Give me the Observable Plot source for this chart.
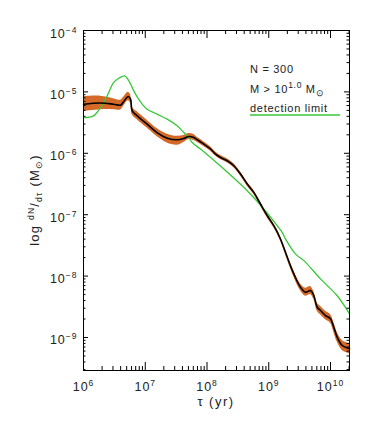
<!DOCTYPE html>
<html><head><meta charset="utf-8">
<script src="https://cdn.jsdelivr.net/npm/d3@7"></script>
<script src="https://cdn.jsdelivr.net/npm/@observablehq/plot@0.6"></script>
<style>
body{margin:0;background:#fff}
#chart{width:374px;height:423px;overflow:hidden}
</style>
</head><body><div id="chart"></div>
<script>
// --- data (log10 values) ---
const logTau = [6.00, 6.275, 6.486, 6.60, 6.648, 6.724, 6.761, 6.789, 6.87, 7.03, 7.19, 7.355, 7.516, 7.624, 7.705, 7.786, 7.841, 7.948, 8.057, 8.138, 8.219, 8.327, 8.434, 8.543, 8.651, 8.758, 8.866, 8.975, 9.082, 9.19, 9.30, 9.406, 9.514, 9.595, 9.676, 9.73, 9.785, 9.838, 9.919, 10.0, 10.053, 10.108, 10.19, 10.308];
const logRate = [-5.20, -5.18, -5.20, -5.216, -5.163, -5.076, -5.114, -5.309, -5.39, -5.525, -5.662, -5.753, -5.78, -5.76, -5.727, -5.743, -5.78, -5.85, -5.93, -6.013, -6.068, -6.122, -6.203, -6.338, -6.50, -6.637, -6.826, -7.016, -7.179, -7.395, -7.694, -7.964, -8.182, -8.263, -8.236, -8.317, -8.507, -8.561, -8.642, -8.696, -8.833, -8.995, -9.13, -9.184];
const sigmaUp = [0.12, 0.11, 0.09, 0.08, 0.075, 0.07, 0.07, 0.065, 0.065, 0.065, 0.065, 0.065, 0.057, 0.05, 0.05, 0.05, 0.04, 0.04, 0.035, 0.033, 0.033, 0.033, 0.033, 0.033, 0.033, 0.033, 0.033, 0.033, 0.033, 0.033, 0.04, 0.05, 0.055, 0.065, 0.065, 0.065, 0.065, 0.07, 0.07, 0.07, 0.08, 0.08, 0.08, 0.08];
const sigmaDown = [0.12, 0.11, 0.09, 0.08, 0.075, 0.07, 0.07, 0.065, 0.065, 0.065, 0.065, 0.08, 0.09, 0.065, 0.05, 0.05, 0.04, 0.04, 0.035, 0.033, 0.033, 0.033, 0.033, 0.033, 0.033, 0.033, 0.033, 0.033, 0.033, 0.033, 0.04, 0.05, 0.055, 0.065, 0.065, 0.065, 0.065, 0.07, 0.07, 0.07, 0.08, 0.08, 0.08, 0.08];
const greenLogTau = [6.00, 6.162, 6.275, 6.384, 6.486, 6.572, 6.669, 6.734, 6.842, 6.95, 7.03, 7.19, 7.355, 7.516, 7.624, 7.705, 7.76, 7.895, 8.272, 8.651, 8.92, 9.136, 9.217, 9.271, 9.433, 9.568, 9.838, 10.108, 10.308];
const greenLogRate = [-5.418, -5.39, -5.255, -5.065, -4.849, -4.777, -4.74, -4.821, -5.037, -5.20, -5.281, -5.363, -5.444, -5.553, -5.662, -5.743, -5.824, -5.932, -6.257, -6.61, -6.907, -7.179, -7.288, -7.395, -7.639, -7.748, -8.046, -8.32, -8.615];
const xMajor = [1e6, 1e7, 1e8, 1e9, 1e10];
const xLabels = ["10^{6}", "10^{7}", "10^{8}", "10^{9}", "10^{10}"];
const yMajor = [1e-9, 1e-8, 1e-7, 1e-6, 1e-5, 1e-4];
const yLabels = ["10^{\u22129}", "10^{\u22128}", "10^{\u22127}", "10^{\u22126}", "10^{\u22125}", "10^{\u22124}"];
const xDomain = [1e6, 2.03e10];
const yDomain = [2.9e-10, 1e-4];
const annotations = ["N = 300", "M > 10^{1.0} M_{\u2299}", "detection limit"];
const yTitle = "log ^{dN}/_{d\u03c4} (M_{\u2299})";
const xTitle = "\u03c4 (yr)";

// --- tables ---
const main = logTau.map((t, i) => ({tau: 10 ** t, v: 10 ** logRate[i], lo: 10 ** (logRate[i] - sigmaDown[i]), hi: 10 ** (logRate[i] + sigmaUp[i])}));
const green = greenLogTau.map((t, i) => ({tau: 10 ** t, v: 10 ** greenLogRate[i]}));
const minorOf = (majors, dom) => majors.concat([majors[0] / 10]).flatMap(m => [2,3,4,5,6,7,8,9].map(k => m * k)).filter(v => v >= dom[0] && v <= dom[1]);
const xMinor = minorOf(xMajor, xDomain);
const yMinor = minorOf(yMajor, yDomain);

const W = 374, H = 423, mL = 83, mR = 25, mT = 30, mB = 53;
const fw = W - mL - mR, fh = H - mT - mB;

const svg = Plot.plot({
  width: W, height: H,
  marginLeft: mL, marginRight: mR, marginTop: mT, marginBottom: mB,
  style: {fontFamily: "Liberation Sans, Arial, sans-serif", fontSize: "12px", background: "white", overflow: "visible"},
  x: {type: "log", domain: xDomain},
  y: {type: "log", domain: yDomain},
  marks: [
    Plot.areaY(main, {x: "tau", y1: "lo", y2: "hi", fill: "#d5692a", curve: "catmull-rom"}),
    Plot.lineY(green, {x: "tau", y: "v", stroke: "#38c838", strokeWidth: 1.3, curve: "catmull-rom"}),
    Plot.lineY(main, {x: "tau", y: "v", stroke: "black", strokeWidth: 1.6, curve: "catmull-rom"}),
    // inward ticks on all four sides
    Plot.ruleX(xMajor, {x: d => d, insetTop: fh - 8, stroke: "black"}),
    Plot.ruleX(xMajor, {x: d => d, insetBottom: fh - 8, stroke: "black"}),
    Plot.ruleX(xMinor, {x: d => d, insetTop: fh - 4, stroke: "black"}),
    Plot.ruleX(xMinor, {x: d => d, insetBottom: fh - 4, stroke: "black"}),
    Plot.ruleY(yMajor, {y: d => d, insetRight: fw - 5, stroke: "black"}),
    Plot.ruleY(yMajor, {y: d => d, insetLeft: fw - 5, stroke: "black"}),
    Plot.ruleY(yMinor, {y: d => d, insetRight: fw - 2.5, stroke: "black"}),
    Plot.ruleY(yMinor, {y: d => d, insetLeft: fw - 2.5, stroke: "black"}),
    Plot.frame({stroke: "black"}),
    Plot.axisX(xMajor, {tickSize: 0, tickPadding: 12, label: null, tickFormat: d => xLabels[xMajor.indexOf(d)], fill: "#222"}),
    Plot.axisY(yMajor, {tickSize: 0, tickPadding: 6, dy: 3, label: null, tickFormat: d => yLabels[yMajor.indexOf(d)], fill: "#222"})
  ]
});
document.getElementById("chart").append(svg);

const root = d3.select(svg);
// tick label font
root.selectAll('g[aria-label="x-axis tick label"], g[aria-label="y-axis tick label"]')
  .attr("font-size", 12.5).attr("letter-spacing", 1);
// titles and annotations
root.append("text").attr("class", "rich").attr("transform", `translate(${mL - 44},${mT + fh / 2}) rotate(-90)`)
  .attr("text-anchor", "middle").attr("font-size", 13).attr("letter-spacing", 1.2).attr("fill", "#222").text(yTitle);
root.append("text").attr("x", mL + fw / 2).attr("y", H - 17).attr("text-anchor", "middle")
  .attr("font-size", 13).attr("letter-spacing", 1.5).attr("fill", "#222").text(xTitle);
annotations.forEach((s, i) => {
  root.append("text").attr("class", "rich").attr("x", mL + 167).attr("y", mT + 43 + i * 19.5)
    .attr("text-anchor", "start").attr("font-size", 11).attr("letter-spacing", 0.7).attr("fill", "#222").text(s);
});
root.append("line").attr("x1", mL + 167).attr("x2", mL + 257).attr("y1", mT + 85).attr("y2", mT + 85)
  .attr("stroke", "#38c838").attr("stroke-width", 1.3);

// superscript / subscript markup -> tspans
root.selectAll("text").each(function () {
  const t = d3.select(this);
  const s = t.text();
  if (!/[\^_]\{/.test(s)) return;
  t.text(null);
  const re = /([\^_])\{([^}]*)\}|([^\^_]+)/g;
  let cur = 0, m;
  while ((m = re.exec(s))) {
    const target = m[3] ? 0 : (m[1] === "^" ? -5 : 3);
    const ts = t.append("tspan").text(m[3] || m[2]);
    if (target !== cur) ts.attr("dy", target - cur);
    if (!m[3]) ts.attr("font-size", 8.5);
    cur = target;
  }
});
</script>
</body></html>
